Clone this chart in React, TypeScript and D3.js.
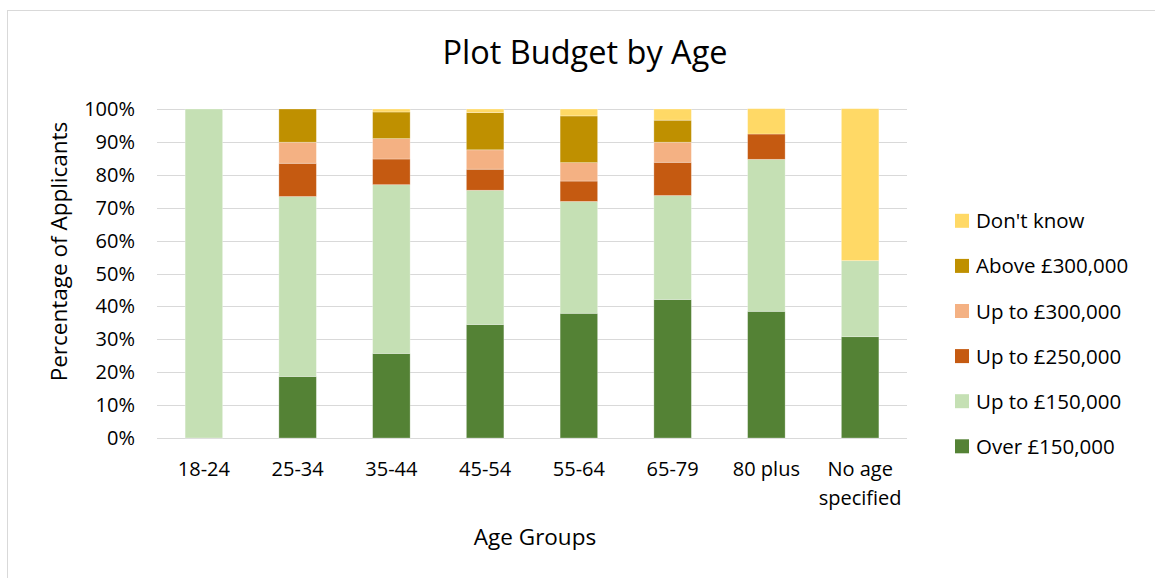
import React from "react";
import * as d3 from "d3";

const categories = ["18-24", "25-34", "35-44", "45-54", "55-64", "65-79", "80 plus", "No age specified"];
const seriesNames = ["Over £150,000", "Up to £150,000", "Up to £250,000", "Up to £300,000", "Above £300,000", "Don't know"];
const over150 = [0, 18.7, 25.7, 34.5, 37.9, 42.1, 38.5, 30.8];
const upTo150 = [100, 54.7, 51.3, 40.8, 34.0, 31.6, 46.2, 23.1];
const upTo250 = [0, 10.1, 7.8, 6.4, 6.2, 10.1, 7.7, 0];
const upTo300 = [0, 6.4, 6.2, 5.9, 5.6, 6.1, 0, 0];
const above300 = [0, 10.1, 8.1, 11.3, 14.2, 6.7, 0, 0];
const dontKnow = [0, 0, 0.9, 1.1, 2.1, 3.4, 7.7, 46.2];
const yTicks = [0, 10, 20, 30, 40, 50, 60, 70, 80, 90, 100];
const colors = ["#548235", "#C5E0B4", "#C55A11", "#F4B183", "#BF9000", "#FFD966"];

const W = 1155, H = 578;
const plot = { left: 157, right: 907, top: 109, bottom: 438 };
const FONT = "'Open Sans', 'Noto Sans', sans-serif";

export default function App() {
  const seriesValues = [over150, upTo150, upTo250, upTo300, above300, dontKnow];
  const rows = categories.map((c, i) => {
    const r: any = { cat: c };
    seriesNames.forEach((s, k) => (r[s] = seriesValues[k][i]));
    return r;
  });
  const stacked = d3.stack().keys(seriesNames)(rows as any);
  const x = d3.scaleBand().domain(categories).range([plot.left, plot.right]).paddingInner(0.6).paddingOuter(0.3);
  const y = d3.scaleLinear().domain([0, 100]).range([plot.bottom, plot.top]);
  const legendTop = 220.8;
  const legendStep = 45.1;

  return (
    <svg width={W} height={H} style={{ position: "absolute", left: 0, top: 0, background: "#fff" }} fontFamily={FONT}>
      <rect x={7.5} y={10.5} width={W + 10} height={H + 10} fill="#fff" stroke="#D9D9D9" strokeWidth={1} />
      <text x={585} y={64} textAnchor="middle" fontSize={32.5} fill="#000">Plot Budget by Age</text>
      {yTicks.map((t) => (
        <g key={t}>
          <line x1={plot.left} x2={plot.right} y1={Math.round(y(t)) + 0.5} y2={Math.round(y(t)) + 0.5} stroke="#D9D9D9" strokeWidth={1} />
          <text x={135} y={y(t) + 7} textAnchor="end" fontSize={20} fill="#000">{t}%</text>
        </g>
      ))}
      {stacked.map((s, k) => (
        <g key={s.key} fill={colors[k]} stroke="#ffffff" strokeOpacity={0.35} strokeWidth={0.8}>
          {s.map((d, i) =>
            d[1] - d[0] > 0 ? (
              <rect key={i} x={x(categories[i])} width={x.bandwidth()} y={y(d[1])} height={y(d[0]) - y(d[1])} />
            ) : null
          )}
        </g>
      ))}
      {categories.map((c) => {
        const cx = (x(c) as number) + x.bandwidth() / 2;
        const parts = c === "No age specified" ? ["No age", "specified"] : [c];
        return (
          <text key={c} x={cx} textAnchor="middle" fontSize={20} fill="#000">
            {parts.map((p, j) => (
              <tspan key={j} x={cx} y={476 + j * 29}>{p}</tspan>
            ))}
          </text>
        );
      })}
      <text x={535} y={545} textAnchor="middle" fontSize={22.5} fill="#000">Age Groups</text>
      <text transform={`translate(67,${(plot.top + plot.bottom) / 2 - 22}) rotate(-90)`} textAnchor="middle" fontSize={22.5} fill="#000">Percentage of Applicants</text>
      {seriesNames.slice().reverse().map((s, j) => {
        const k = seriesNames.length - 1 - j;
        const cy = legendTop + j * legendStep;
        return (
          <g key={s}>
            <rect x={955} y={cy - 7} width={14} height={14} fill={colors[k]} />
            <text x={976} y={cy + 7.5} fontSize={20.5} fill="#000">{s}</text>
          </g>
        );
      })}
    </svg>
  );
}
